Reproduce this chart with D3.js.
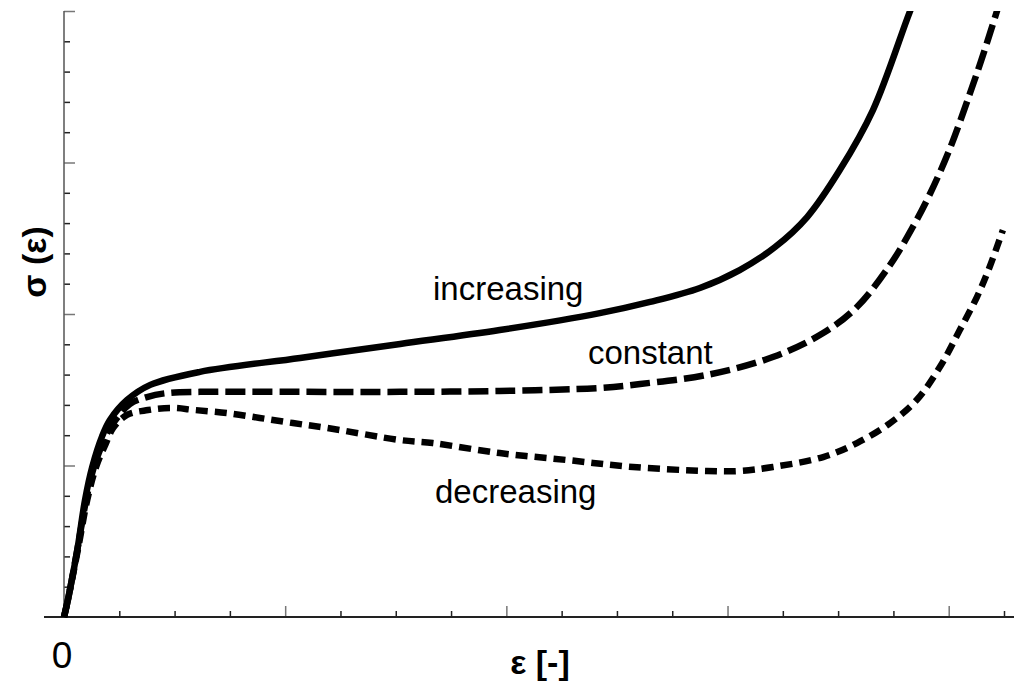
<!DOCTYPE html>
<html>
<head>
<meta charset="utf-8">
<script src="https://cdn.jsdelivr.net/npm/d3@7"></script>
<style>
  html, body { margin: 0; padding: 0; background: #fff; }
  svg { display: block; }
  text { font-family: "Liberation Sans", Arial, sans-serif; fill: #000; }
</style>
</head>
<body>
<svg id="chart" width="1014" height="684"></svg>
<script>
// strain / stress curves (arbitrary units)
const increasingX = [0, 0.07, 0.24, 0.38, 0.51, 0.69, 0.83, 1.14, 1.56, 2.46, 4.27, 6.08, 7.88, 9.69, 10.6, 11.5, 12.22, 12.86, 13.44, 14.03, 14.63, 15.24, 15.35];
const increasingY = [0, 0.56, 2.21, 3.86, 4.95, 5.97, 6.5, 7.16, 7.66, 8.09, 8.55, 9.01, 9.47, 10.03, 10.4, 10.86, 11.45, 12.21, 13.2, 14.75, 16.73, 19.7, 20.23];

const constantX = [0, 0.07, 0.24, 0.4, 0.54, 0.71, 0.83, 0.96, 1.19, 1.5, 1.86, 2.46, 4.27, 6.08, 7.88, 9.69, 10.42, 11.63, 12.82, 13.73, 14.34, 14.94, 15.35, 15.66, 16.02, 16.38, 16.65, 16.89];
const constantY = [0, 0.56, 2.21, 3.86, 4.95, 5.78, 6.24, 6.57, 7.03, 7.26, 7.39, 7.43, 7.43, 7.43, 7.46, 7.56, 7.69, 7.99, 8.58, 9.37, 10.23, 11.62, 12.87, 13.96, 15.45, 17.26, 18.71, 20.1];

const decreasingX = [0, 0.07, 0.25, 0.42, 0.58, 0.76, 0.89, 1.14, 1.52, 1.95, 2.37, 2.95, 3.54, 4.14, 4.76, 6.08, 6.67, 7.88, 9.1, 10.29, 11.63, 12.22, 12.82, 13.73, 14.34, 14.94, 15.42, 15.84, 16.2, 16.51, 16.74, 16.98];
const decreasingY = [0, 0.56, 2.21, 3.86, 4.95, 5.74, 6.24, 6.67, 6.83, 6.9, 6.83, 6.73, 6.57, 6.4, 6.24, 5.84, 5.74, 5.41, 5.18, 4.95, 4.82, 4.82, 4.95, 5.28, 5.74, 6.4, 7.16, 8.25, 9.47, 10.56, 11.55, 12.77];

const xTicks = d3.range(0, 18);
const xMajorTicks = [0, 4, 8, 12, 16];
const yTicks = d3.range(0, 21);
const yMajorTicks = [0, 5, 10, 15, 20];

const seriesLabels = ['increasing', 'constant', 'decreasing'];

const svg = d3.select('#chart');
const width = 1014;

const x = d3.scaleLinear().domain([0, 17]).range([64, 1004]);
const y = d3.scaleLinear().domain([0, 20]).range([617, 11]);

// axes - ticks point inwards
const gx = svg.append('g').attr('transform', `translate(0,${y(0)})`);
gx.append('g')
    .call(d3.axisBottom(x).tickValues(xTicks.filter(t => !xMajorTicks.includes(t))).tickSize(-6).tickFormat(''))
    .call(g => g.select('.domain').remove())
    .call(g => g.selectAll('line').attr('stroke', '#222').attr('stroke-width', 1.5));
gx.append('g')
    .call(d3.axisBottom(x).tickValues(xMajorTicks.slice(1)).tickSize(-11).tickFormat(''))
    .call(g => g.select('.domain').remove())
    .call(g => g.selectAll('line').attr('stroke', '#777').attr('stroke-width', 1.5));
gx.append('line')
    .attr('x1', x(0) - 20).attr('x2', width)
    .attr('stroke', '#222').attr('stroke-width', 2);

const gy = svg.append('g').attr('transform', `translate(${x(0)},0)`);
gy.append('g')
    .call(d3.axisLeft(y).tickValues(yTicks.filter(t => !yMajorTicks.includes(t))).tickSize(-6).tickFormat(''))
    .call(g => g.select('.domain').remove())
    .call(g => g.selectAll('line').attr('stroke', '#222').attr('stroke-width', 1.5));
gy.append('g')
    .call(d3.axisLeft(y).tickValues(yMajorTicks.slice(1)).tickSize(-11).tickFormat(''))
    .call(g => g.select('.domain').remove())
    .call(g => g.selectAll('line').attr('stroke', '#777').attr('stroke-width', 1.5));
gy.append('line')
    .attr('y1', y(20)).attr('y2', y(0))
    .attr('stroke', '#555').attr('stroke-width', 1.5);

// curves
const line = d3.line()
    .x(d => x(d[0]))
    .y(d => y(d[1]))
    .curve(d3.curveCatmullRom.alpha(0.5));

const series = [
    { xs: increasingX, ys: increasingY, dash: null },
    { xs: constantX, ys: constantY, dash: '20,7' },
    { xs: decreasingX, ys: decreasingY, dash: '12,7' }
];

svg.append('clipPath').attr('id', 'plot-clip')
    .append('rect').attr('x', 0).attr('y', y(20)).attr('width', width).attr('height', 700);

svg.append('g').attr('clip-path', 'url(#plot-clip)')
    .selectAll('path')
    .data(series)
    .enter().append('path')
    .attr('d', s => line(s.xs.map((v, i) => [v, s.ys[i]])))
    .attr('fill', 'none')
    .attr('stroke', '#000')
    .attr('stroke-width', 6.5)
    .attr('stroke-dasharray', s => s.dash);

// curve labels
const labelPos = [[433, 300], [588, 364], [435, 503]];
svg.append('g')
    .selectAll('text')
    .data(seriesLabels)
    .enter().append('text')
    .attr('x', (d, i) => labelPos[i][0])
    .attr('y', (d, i) => labelPos[i][1])
    .attr('font-size', '33px')
    .text(d => d);

// axis labels
svg.append('text')
    .attr('x', x(0) - 2).attr('y', 668)
    .attr('text-anchor', 'middle')
    .attr('font-size', '37px')
    .text('0');

svg.append('text')
    .attr('x', 540).attr('y', 674)
    .attr('text-anchor', 'middle')
    .attr('font-size', '34px')
    .attr('font-weight', 'bold')
    .text('ε [-]');

svg.append('text')
    .attr('transform', 'translate(46,262) rotate(-90)')
    .attr('text-anchor', 'middle')
    .attr('font-size', '34px')
    .attr('font-weight', 'bold')
    .text('σ (ε)');
</script>
</body>
</html>
